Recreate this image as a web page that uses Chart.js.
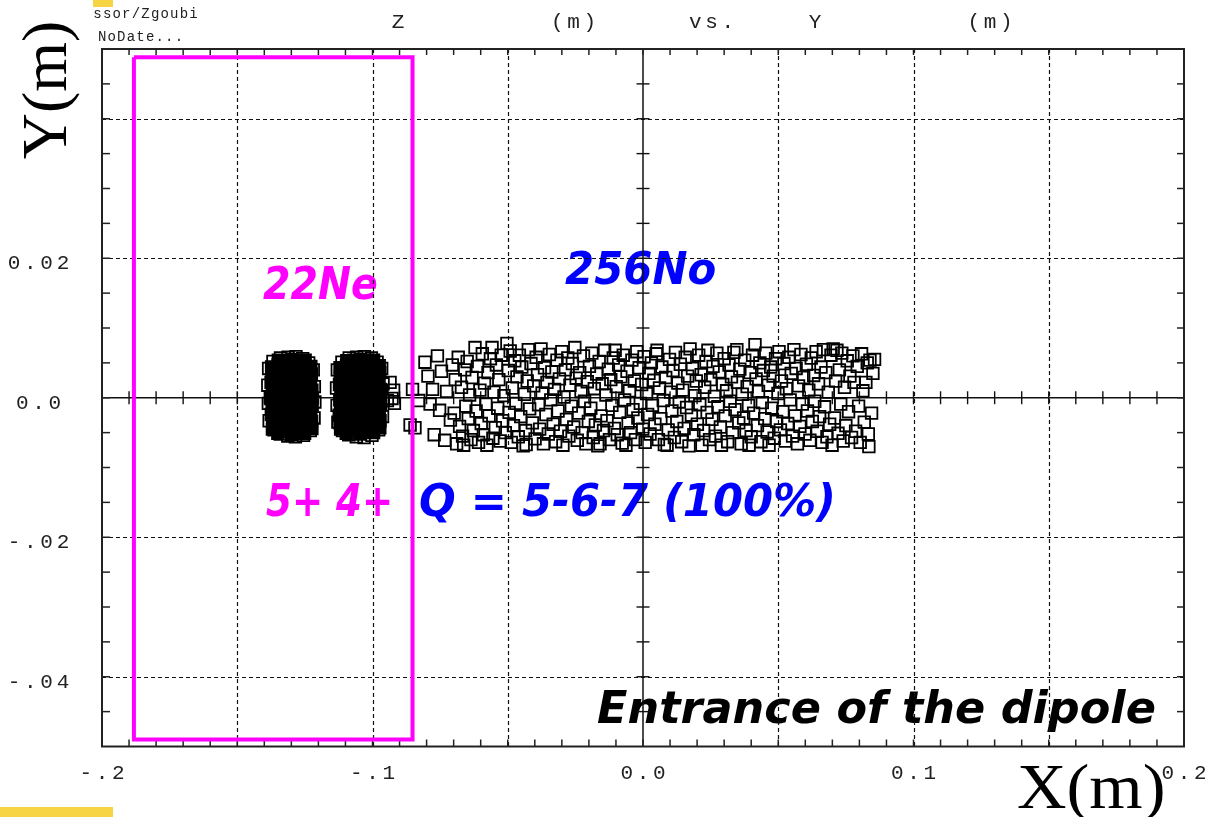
<!DOCTYPE html>
<html>
<head>
<meta charset="utf-8">
<title>Z (m) vs. Y (m)</title>
<script src="https://cdn.jsdelivr.net/npm/chart.js@4.4.1/dist/chart.umd.min.js"></script>
<style>
  html, body { margin: 0; padding: 0; background: #ffffff; }
  #wrap { position: relative; width: 1205px; height: 817px; background: #ffffff; }
</style>
</head>
<body>
<div id="wrap"><canvas id="c" width="1205" height="817"></canvas></div>
<script>
// ---- data (metres) ---------------------------------------------------------

// 22Ne, charge state 5+ : dense core of the beam spot
const ne5Core = [
  [-0.1373,0.0044],[-0.1372,0.0033],[-0.1375,0.0022],[-0.1370,0.0011],[-0.1376,-0.0001],[-0.1371,-0.0012],[-0.1374,-0.0024],[-0.1369,-0.0035],[-0.1370,-0.0045],
  [-0.1348,0.0054],[-0.1349,0.0047],[-0.1346,0.0036],[-0.1351,0.0025],[-0.1347,0.0013],[-0.1350,0.0002],[-0.1345,-0.0009],[-0.1349,-0.0020],[-0.1352,-0.0031],[-0.1347,-0.0043],[-0.1350,-0.0051],
  [-0.1323,0.0053],[-0.1326,0.0042],[-0.1321,0.0030],[-0.1324,0.0019],[-0.1320,0.0008],[-0.1325,-0.0003],[-0.1322,-0.0014],[-0.1327,-0.0026],[-0.1321,-0.0037],[-0.1324,-0.0048],
  [-0.1298,0.0055],[-0.1301,0.0044],[-0.1296,0.0032],[-0.1300,0.0021],[-0.1297,0.0010],[-0.1302,-0.0001],[-0.1295,-0.0013],[-0.1299,-0.0024],[-0.1303,-0.0035],[-0.1297,-0.0046],[-0.1300,-0.0053],
  [-0.1273,0.0053],[-0.1270,0.0042],[-0.1275,0.0031],[-0.1272,0.0019],[-0.1276,0.0008],[-0.1271,-0.0003],[-0.1274,-0.0015],[-0.1270,-0.0026],[-0.1275,-0.0037],[-0.1272,-0.0048],
  [-0.1249,0.0054],[-0.1250,0.0046],[-0.1247,0.0035],[-0.1252,0.0024],[-0.1248,0.0012],[-0.1251,0.0001],[-0.1246,-0.0010],[-0.1250,-0.0021],[-0.1247,-0.0032],[-0.1252,-0.0043],[-0.1251,-0.0051],
  [-0.1228,0.0045],[-0.1226,0.0034],[-0.1229,0.0023],[-0.1224,0.0011],[-0.1227,0.0000],[-0.1223,-0.0011],[-0.1228,-0.0022],[-0.1225,-0.0034],[-0.1224,-0.0044]
];
// 22Ne 5+ : outer particles of the spot
const ne5Edge = [
  [-0.1384,0.0042],[-0.1387,0.0018],[-0.1385,-0.0008],[-0.1382,-0.0033],[-0.1368,0.0052],[-0.1340,0.0057],[-0.1312,0.0058],
  [-0.1283,0.0059],[-0.1258,0.0056],[-0.1236,0.0050],[-0.1219,0.0040],[-0.1215,0.0016],[-0.1213,-0.0006],[-0.1216,-0.0029],
  [-0.1230,-0.0047],[-0.1255,-0.0054],[-0.1285,-0.0056],[-0.1313,-0.0055],[-0.1341,-0.0052],[-0.1364,-0.0046]
];

// 22Ne, charge state 4+ : dense core
const ne4Core = [
  [-0.1120,0.0043],[-0.1119,0.0030],[-0.1122,0.0019],[-0.1117,0.0008],[-0.1121,-0.0003],[-0.1118,-0.0014],[-0.1123,-0.0025],[-0.1120,-0.0036],[-0.1118,-0.0045],
  [-0.1095,0.0053],[-0.1096,0.0046],[-0.1093,0.0035],[-0.1098,0.0024],[-0.1094,0.0012],[-0.1097,0.0001],[-0.1092,-0.0010],[-0.1096,-0.0021],[-0.1099,-0.0032],[-0.1094,-0.0044],[-0.1097,-0.0051],
  [-0.1070,0.0054],[-0.1073,0.0043],[-0.1068,0.0031],[-0.1071,0.0020],[-0.1067,0.0009],[-0.1072,-0.0002],[-0.1069,-0.0013],[-0.1074,-0.0025],[-0.1068,-0.0036],[-0.1071,-0.0047],
  [-0.1045,0.0055],[-0.1048,0.0044],[-0.1043,0.0033],[-0.1047,0.0022],[-0.1044,0.0010],[-0.1049,-0.0001],[-0.1042,-0.0012],[-0.1046,-0.0023],[-0.1050,-0.0034],[-0.1044,-0.0045],[-0.1047,-0.0052],
  [-0.1020,0.0054],[-0.1017,0.0043],[-0.1022,0.0032],[-0.1019,0.0020],[-0.1023,0.0009],[-0.1018,-0.0002],[-0.1021,-0.0014],[-0.1017,-0.0025],[-0.1022,-0.0036],[-0.1019,-0.0047],
  [-0.0996,0.0054],[-0.0997,0.0048],[-0.0994,0.0037],[-0.0999,0.0025],[-0.0995,0.0013],[-0.0998,0.0002],[-0.0993,-0.0009],[-0.0997,-0.0020],[-0.0994,-0.0031],[-0.0999,-0.0042],[-0.0996,-0.0050],
  [-0.0975,0.0046],[-0.0973,0.0036],[-0.0976,0.0024],[-0.0971,0.0012],[-0.0974,0.0001],[-0.0970,-0.0010],[-0.0975,-0.0021],[-0.0972,-0.0033],[-0.0973,-0.0043]
];
// 22Ne 4+ : outer particles and stragglers
const ne4Edge = [
  [-0.1130,0.0040],[-0.1133,0.0014],[-0.1131,-0.0011],[-0.1128,-0.0035],[-0.1113,0.0051],[-0.1086,0.0057],[-0.1058,0.0058],
  [-0.1030,0.0059],[-0.1004,0.0057],[-0.0983,0.0051],[-0.0966,0.0042],[-0.0961,0.0020],[-0.0960,-0.0004],[-0.0963,-0.0027],
  [-0.0977,-0.0046],[-0.1002,-0.0054],[-0.1031,-0.0057],[-0.1060,-0.0056],[-0.1088,-0.0053],[-0.1111,-0.0047],
  [-0.0935,0.0022],[-0.0922,0.0011],[-0.0928,-0.0001],[-0.0919,-0.0008],[-0.0945,-0.0004]
];

// 256No, Q = 5-6-7 : broad band of recoils
const no256 = [
  [-0.0861,-0.0039],[-0.0843,-0.0043],[-0.0852,0.0012],[-0.0829,-0.0004],
  [-0.0806,0.0051],[-0.0795,0.0031],[-0.0787,-0.0009],[-0.0772,-0.0053],[-0.0778,0.0012],[-0.0760,0.0060],[-0.0752,-0.0018],
  [-0.0745,0.0038],[-0.0733,-0.0061],[-0.0726,0.0009],[-0.0712,-0.0032],[-0.0705,0.0047],
  [-0.0698,-0.0022],[-0.0694,0.0026],[-0.0689,-0.0066],[-0.0683,0.0058],[-0.0678,-0.0041],[-0.0671,0.0015],[-0.0667,-0.0055],
  [-0.0663,-0.0068],[-0.0659,0.0040],[-0.0655,-0.0012],[-0.0650,0.0052],[-0.0646,-0.0030],[-0.0641,0.0004],[-0.0636,-0.0060],
  [-0.0632,0.0029],[-0.0627,-0.0047],[-0.0621,0.0072],[-0.0617,-0.0019],[-0.0612,0.0045],[-0.0608,-0.0064],[-0.0603,0.0011],
  [-0.0598,-0.0037],[-0.0594,0.0063],[-0.0590,-0.0053],[-0.0586,0.0021],[-0.0581,-0.0009],[-0.0577,-0.0068],[-0.0573,0.0036],
  [-0.0569,-0.0026],[-0.0564,0.0056],[-0.0558,0.0072],[-0.0555,-0.0058],[-0.0551,0.0008],[-0.0546,-0.0043],[-0.0542,0.0047],
  [-0.0537,-0.0015],[-0.0533,0.0026],[-0.0528,-0.0062],[-0.0524,0.0061],[-0.0519,-0.0033],[-0.0514,0.0003],[-0.0509,-0.0050],[-0.0503,0.0078],
  [-0.0498,0.0039],[-0.0495,-0.0021],[-0.0491,0.0067],[-0.0487,-0.0064],[-0.0483,0.0014],[-0.0479,-0.0040],[-0.0474,0.0053],
  [-0.0470,-0.0008],[-0.0466,0.0030],[-0.0461,-0.0056],[-0.0457,0.0061],[-0.0452,-0.0027],[-0.0448,0.0044],[-0.0443,-0.0069],
  [-0.0438,0.0005],[-0.0434,-0.0047],[-0.0432,-0.0067],[-0.0428,0.0024],[-0.0424,0.0069],[-0.0419,-0.0016],[-0.0414,0.0049],
  [-0.0409,-0.0036],[-0.0404,0.0017],
  [-0.0399,-0.0059],[-0.0395,0.0058],[-0.0390,0.0033],[-0.0386,-0.0010],[-0.0382,-0.0045],[-0.0377,0.0070],[-0.0373,0.0007],
  [-0.0368,-0.0066],[-0.0364,0.0043],[-0.0359,-0.0024],[-0.0355,0.0022],[-0.0350,-0.0052],[-0.0346,0.0062],[-0.0341,-0.0003],
  [-0.0337,0.0037],[-0.0332,-0.0038],[-0.0327,0.0012],[-0.0323,-0.0063],[-0.0318,0.0054],[-0.0314,-0.0019],[-0.0309,0.0027],[-0.0305,-0.0048],
  [-0.0300,0.0066],[-0.0296,-0.0068],[-0.0292,0.0001],[-0.0287,0.0040],[-0.0283,-0.0031],[-0.0278,0.0057],[-0.0274,-0.0055],
  [-0.0270,0.0018],[-0.0265,-0.0012],[-0.0261,0.0049],[-0.0256,-0.0042],[-0.0252,0.0072],[-0.0247,0.0028],[-0.0243,-0.0061],
  [-0.0238,-0.0022],[-0.0234,0.0036],[-0.0229,0.0009],[-0.0225,-0.0050],[-0.0220,0.0060],[-0.0216,-0.0005],[-0.0211,-0.0066],
  [-0.0206,0.0023],[-0.0202,-0.0034],
  [-0.0198,0.0045],[-0.0193,-0.0015],[-0.0189,0.0064],[-0.0184,-0.0057],[-0.0180,0.0013],[-0.0176,-0.0039],[-0.0171,0.0034],
  [-0.0167,-0.0069],[-0.0162,0.0052],[-0.0159,-0.0066],[-0.0155,-0.0026],[-0.0151,0.0020],[-0.0146,-0.0047],[-0.0142,0.0068],
  [-0.0137,0.0004],[-0.0133,-0.0033],[-0.0128,0.0041],[-0.0124,-0.0060],[-0.0119,0.0026],[-0.0115,-0.0011],[-0.0110,0.0057],
  [-0.0106,-0.0044],[-0.0103,0.0068],
  [-0.0099,0.0016],[-0.0095,-0.0053],[-0.0090,0.0047],[-0.0086,-0.0021],[-0.0082,0.0030],[-0.0077,-0.0065],[-0.0073,0.0061],
  [-0.0068,-0.0003],[-0.0063,-0.0068],[-0.0059,0.0038],[-0.0055,-0.0036],[-0.0050,0.0010],[-0.0046,-0.0050],[-0.0041,0.0054],
  [-0.0037,-0.0017],[-0.0032,0.0024],[-0.0028,-0.0060],[-0.0023,0.0066],[-0.0019,-0.0029],[-0.0014,0.0043],[-0.0010,-0.0008],
  [-0.0005,0.0019],[-0.0001,-0.0045],
  [0.0004,0.0059],[0.0008,-0.0064],[0.0013,0.0006],[0.0017,-0.0024],[0.0022,0.0035],[0.0026,-0.0052],[0.0031,0.0050],
  [0.0035,-0.0011],[0.0040,0.0025],[0.0044,-0.0038],[0.0049,0.0063],[0.0052,0.0068],[0.0057,-0.0060],[0.0061,0.0014],
  [0.0066,-0.0030],[0.0070,0.0044],[0.0075,-0.0004],[0.0079,-0.0067],[0.0084,0.0029],[0.0089,-0.0068],[0.0093,-0.0046],[0.0098,0.0055],
  [0.0102,0.0008],[0.0107,-0.0019],[0.0111,0.0039],[0.0116,-0.0057],[0.0120,0.0065],[0.0125,-0.0034],[0.0129,0.0021],
  [0.0134,-0.0006],[0.0138,0.0048],[0.0143,-0.0063],[0.0147,0.0011],[0.0152,-0.0044],[0.0156,0.0058],[0.0161,-0.0014],
  [0.0165,0.0031],[0.0170,-0.0069],[0.0174,0.0070],[0.0179,-0.0025],[0.0183,0.0042],[0.0188,-0.0053],[0.0192,0.0003],[0.0197,0.0024],
  [0.0201,-0.0038],[0.0206,0.0061],[0.0210,-0.0010],[0.0215,0.0033],[0.0218,-0.0068],[0.0224,-0.0047],[0.0228,0.0015],
  [0.0233,0.0052],[0.0237,-0.0021],[0.0240,0.0068],[0.0246,-0.0060],[0.0250,0.0026],[0.0255,-0.0031],[0.0259,0.0045],
  [0.0264,0.0002],[0.0268,-0.0055],[0.0273,0.0064],[0.0277,-0.0013],[0.0282,0.0037],[0.0286,-0.0042],[0.0290,-0.0068],[0.0295,0.0019],
  [0.0300,0.0056],[0.0304,-0.0026],[0.0309,0.0010],[0.0313,-0.0063],[0.0318,0.0047],[0.0322,-0.0005],[0.0327,0.0030],
  [0.0331,-0.0050],[0.0336,0.0065],[0.0340,-0.0017],[0.0347,0.0069],[0.0349,0.0022],[0.0354,-0.0036],[0.0358,0.0041],
  [0.0363,-0.0066],[0.0367,0.0005],[0.0372,-0.0029],[0.0376,0.0054],[0.0381,-0.0047],[0.0385,0.0016],[0.0390,-0.0011],
  [0.0392,-0.0068],[0.0396,0.0036],
  [0.0400,-0.0056],[0.0405,0.0061],[0.0409,-0.0022],[0.0414,0.0076],[0.0418,0.0027],[0.0423,-0.0040],[0.0427,0.0009],
  [0.0432,0.0050],[0.0436,-0.0063],[0.0441,-0.0007],[0.0445,0.0039],[0.0450,-0.0030],[0.0454,0.0064],[0.0459,-0.0049],
  [0.0463,0.0018],[0.0466,-0.0068],[0.0472,0.0044],[0.0476,-0.0015],[0.0481,0.0031],[0.0485,-0.0058],[0.0490,0.0056],[0.0494,-0.0034],
  [0.0499,0.0006],[0.0503,0.0066],[0.0508,-0.0046],[0.0512,0.0024],[0.0517,-0.0020],[0.0521,0.0049],[0.0526,-0.0062],
  [0.0530,0.0013],[0.0535,-0.0037],[0.0539,0.0058],[0.0544,-0.0003],[0.0548,0.0035],[0.0553,-0.0055],[0.0558,0.0069],
  [0.0562,-0.0026],[0.0566,0.0042],[0.0571,-0.0066],[0.0575,0.0017],[0.0580,-0.0041],[0.0584,0.0062],[0.0589,-0.0009],[0.0594,0.0029],
  [0.0599,-0.0052],[0.0604,0.0048],[0.0608,-0.0019],[0.0613,0.0011],[0.0617,-0.0061],[0.0622,0.0057],[0.0626,-0.0034],
  [0.0631,0.0032],[0.0635,-0.0005],[0.0640,0.0066],[0.0644,-0.0048],[0.0649,0.0020],[0.0653,-0.0027],[0.0658,0.0044],
  [0.0662,-0.0064],[0.0667,0.0069],[0.0671,-0.0013],[0.0676,0.0036],[0.0680,-0.0056],[0.0685,0.0008],[0.0690,-0.0038],
  [0.0695,0.0061],[0.0699,-0.0068],
  [0.0703,0.0070],[0.0708,-0.0029],[0.0712,0.0024],[0.0717,0.0068],[0.0721,-0.0051],[0.0726,0.0040],[0.0731,-0.0009],
  [0.0735,0.0064],[0.0740,-0.0062],[0.0745,0.0015],[0.0750,-0.0040],[0.0755,0.0053],[0.0760,-0.0020],[0.0765,0.0031],
  [0.0771,-0.0057],[0.0776,0.0060],[0.0780,0.0022],[0.0786,-0.0048],[0.0792,0.0045],[0.0797,-0.0012],
  [0.0803,-0.0064],[0.0808,0.0063],[0.0813,0.0010],[0.0818,-0.0035],[0.0824,0.0022],[0.0829,0.0050],[0.0833,-0.0052],
  [0.0835,-0.0070],[0.0839,0.0054],[0.0845,-0.0022],[0.0850,0.0035],[0.0856,0.0055]
];

// acceptance window (closed outline)
const acceptanceBox = [[-0.1882,0.0488],[-0.0852,0.0488],[-0.0852,-0.0490],[-0.1882,-0.0490],[-0.1882,0.0488]];

// axes
const xRange = [-0.2, 0.2];
const yRange = [-0.05, 0.05];
const xTickValues = [-0.2, -0.1, 0.0, 0.1, 0.2];
const xTickLabels = ['-.2', '-.1', '0.0', '0.1', '0.2'];
const yTickValues = [0.02, 0.0, -0.02, -0.04];
const yTickLabels = ['0.02', '0.0', '-.02', '-.04'];
const xGridValues = [-0.15, -0.1, -0.05, 0.05, 0.1, 0.15];
const yGridValues = [0.04, 0.02, -0.02, -0.04];
const xMinorStep = 0.01;
const yMinorStep = 0.005;

// texts
const titleWords = ['Z', '(m)', 'vs.', 'Y', '(m)'];
const headerLines = ['ssor/Zgoubi', 'NoDate...'];
const axisTitleX = 'X(m)';
const axisTitleY = 'Y(m)';
const speciesLabels = ['22Ne', '256No'];
const chargeLabels = ['5+ 4+', 'Q = 5-6-7 (100%)'];
const locationLabel = 'Entrance of the dipole';

// ---- drawing helpers ------------------------------------------------------
const toXY = arr => arr.map(([x, y]) => ({ x, y }));

function monoText(ctx, text, cx, baseline, adv, size, color) {
  ctx.save();
  ctx.font = size + 'px "Liberation Mono", "DejaVu Sans Mono", monospace';
  ctx.fillStyle = color;
  ctx.textAlign = 'center';
  ctx.textBaseline = 'alphabetic';
  const x0 = cx - (text.length - 1) * adv / 2;
  for (let i = 0; i < text.length; i++) ctx.fillText(text[i], x0 + i * adv, baseline);
  ctx.restore();
}

function fitText(ctx, text, left, right, baseline, font, color) {
  ctx.save();
  ctx.font = font;
  ctx.fillStyle = color;
  ctx.textAlign = 'left';
  ctx.textBaseline = 'alphabetic';
  const m = ctx.measureText(text);
  const ink = m.actualBoundingBoxLeft + m.actualBoundingBoxRight;
  const sx = (right - left) / ink;
  ctx.translate(left + m.actualBoundingBoxLeft * sx, baseline);
  ctx.scale(sx, 1);
  ctx.fillText(text, 0, 0);
  ctx.restore();
}

function seg(ctx, x1, y1, x2, y2) {
  ctx.beginPath(); ctx.moveTo(x1, y1); ctx.lineTo(x2, y2); ctx.stroke();
}

const BOLD_IT = 'italic bold 44px "DejaVu Sans", sans-serif';

const plotDecor = {
  id: 'plotDecor',
  beforeDatasetsDraw(chart) {
    const { ctx, chartArea: a } = chart;
    const xs = chart.scales.x, ys = chart.scales.y;
    const x0 = xs.getPixelForValue(0), y0 = ys.getPixelForValue(0);

    // slide accents
    ctx.save();
    ctx.fillStyle = '#f6d443';
    ctx.fillRect(93, 0, 20, 7);
    ctx.fillRect(0, 807, 113, 10);
    ctx.restore();

    // header lines and title
    monoText(ctx, headerLines[0], 145.5, 18, 9.6, 14, '#222');
    monoText(ctx, headerLines[1], 140.5, 41, 9.6, 14, '#222');
    const titleCenters = [398, 573.5, 711.5, 815, 990];
    titleWords.forEach((w, i) => monoText(ctx, w, titleCenters[i], 28, 16.3, 21, '#222'));

    // in-plot annotations
    fitText(ctx, speciesLabels[0], 263, 377, 299, BOLD_IT, '#ff00ff');
    fitText(ctx, speciesLabels[1], 565, 715, 284, BOLD_IT, '#0000ff');
    fitText(ctx, chargeLabels[0], 266, 390, 516, BOLD_IT, '#ff00ff');
    fitText(ctx, chargeLabels[1], 420, 832, 516, BOLD_IT, '#0000ff');
    fitText(ctx, locationLabel, 597, 1155, 723, BOLD_IT, '#000000');

    // dashed grid
    ctx.save();
    ctx.strokeStyle = '#111';
    ctx.lineWidth = 1.2;
    ctx.setLineDash([4, 3]);
    xGridValues.forEach(v => { const p = Math.round(xs.getPixelForValue(v)) + 0.5; seg(ctx, p, a.top, p, a.bottom); });
    yGridValues.forEach(v => { const p = Math.round(ys.getPixelForValue(v)) + 0.5; seg(ctx, a.left, p, a.right, p); });
    ctx.restore();

    // solid axes through the origin, with cross ticks
    ctx.save();
    ctx.strokeStyle = '#111';
    ctx.lineWidth = 1.5;
    seg(ctx, a.left, y0, a.right, y0);
    seg(ctx, x0, a.top, x0, a.bottom);
    ctx.lineWidth = 1.4;
    for (let k = Math.ceil(xRange[0] / xMinorStep) + 1; k < Math.floor(xRange[1] / xMinorStep); k++) {
      if (k === 0) continue;
      const p = xs.getPixelForValue(k * xMinorStep);
      seg(ctx, p, y0 - 6.5, p, y0 + 6.5);
    }
    for (let k = Math.ceil(yRange[0] / yMinorStep) + 1; k < Math.floor(yRange[1] / yMinorStep); k++) {
      if (k === 0) continue;
      const p = ys.getPixelForValue(k * yMinorStep);
      seg(ctx, x0 - 6.5, p, x0 + 6.5, p);
    }
    ctx.restore();

    // frame with inward ticks
    ctx.save();
    ctx.strokeStyle = '#222';
    ctx.lineWidth = 2;
    ctx.strokeRect(a.left, a.top, a.right - a.left, a.bottom - a.top);
    ctx.lineWidth = 1.5;
    for (let k = Math.ceil(xRange[0] / xMinorStep) + 1; k < Math.floor(xRange[1] / xMinorStep); k++) {
      const p = xs.getPixelForValue(k * xMinorStep);
      seg(ctx, p, a.top, p, a.top + 6);
      seg(ctx, p, a.bottom - 7, p, a.bottom);
    }
    for (let k = Math.ceil(yRange[0] / yMinorStep) + 1; k < Math.floor(yRange[1] / yMinorStep); k++) {
      const p = ys.getPixelForValue(k * yMinorStep);
      seg(ctx, a.left, p, a.left + 8, p);
      seg(ctx, a.right - 7, p, a.right, p);
    }
    ctx.restore();

    // tick labels
    yTickValues.forEach((v, i) => monoText(ctx, yTickLabels[i], 38.5, ys.getPixelForValue(v) + 11, 16.3, 21, '#222'));
    xTickValues.forEach((v, i) => monoText(ctx, xTickLabels[i], xs.getPixelForValue(v), 779, 16.3, 21, '#222'));

    // axis titles
    ctx.save();
    ctx.fillStyle = '#000';
    ctx.font = '64px "Liberation Serif", "DejaVu Serif", serif';
    ctx.textBaseline = 'alphabetic';
    ctx.textAlign = 'center';
    ctx.translate(66, 90);
    ctx.rotate(-Math.PI / 2);
    ctx.fillText(axisTitleY, 0, 0);
    ctx.restore();
    fitText(ctx, axisTitleX, 1018, 1163, 808, '64px "Liberation Serif", "DejaVu Serif", serif', '#000');
  }
};

const squareStyle = { pointStyle: 'rect', pointRadius: 8.2, pointHoverRadius: 8.2, borderWidth: 1.8, borderColor: '#000' };

new Chart(document.getElementById('c'), {
  type: 'scatter',
  data: {
    datasets: [
      { label: 'acceptance', type: 'line', data: toXY(acceptanceBox), borderColor: '#ff00ff', borderWidth: 4,
        pointRadius: 0, fill: false, tension: 0, borderJoinStyle: 'miter', borderCapStyle: 'butt', order: 0 },
      Object.assign({ label: '256No', data: toXY(no256), backgroundColor: 'rgba(0,0,0,0)', order: 1 }, squareStyle),
      Object.assign({ label: '22Ne 4+ edge', data: toXY(ne4Edge), backgroundColor: 'rgba(0,0,0,0)', order: 2 }, squareStyle),
      Object.assign({ label: '22Ne 4+', data: toXY(ne4Core), backgroundColor: '#000', order: 3 }, squareStyle),
      Object.assign({ label: '22Ne 5+ edge', data: toXY(ne5Edge), backgroundColor: 'rgba(0,0,0,0)', order: 4 }, squareStyle),
      Object.assign({ label: '22Ne 5+', data: toXY(ne5Core), backgroundColor: '#000', order: 5 }, squareStyle)
    ]
  },
  options: {
    responsive: false,
    animation: false,
    devicePixelRatio: 1,
    events: [],
    layout: { padding: { left: 102, right: 21, top: 49, bottom: 70.5 } },
    plugins: { legend: { display: false }, tooltip: { enabled: false } },
    scales: {
      x: { type: 'linear', min: xRange[0], max: xRange[1], display: false },
      y: { type: 'linear', min: yRange[0], max: yRange[1], display: false }
    }
  },
  plugins: [plotDecor]
});
</script>
</body>
</html>
